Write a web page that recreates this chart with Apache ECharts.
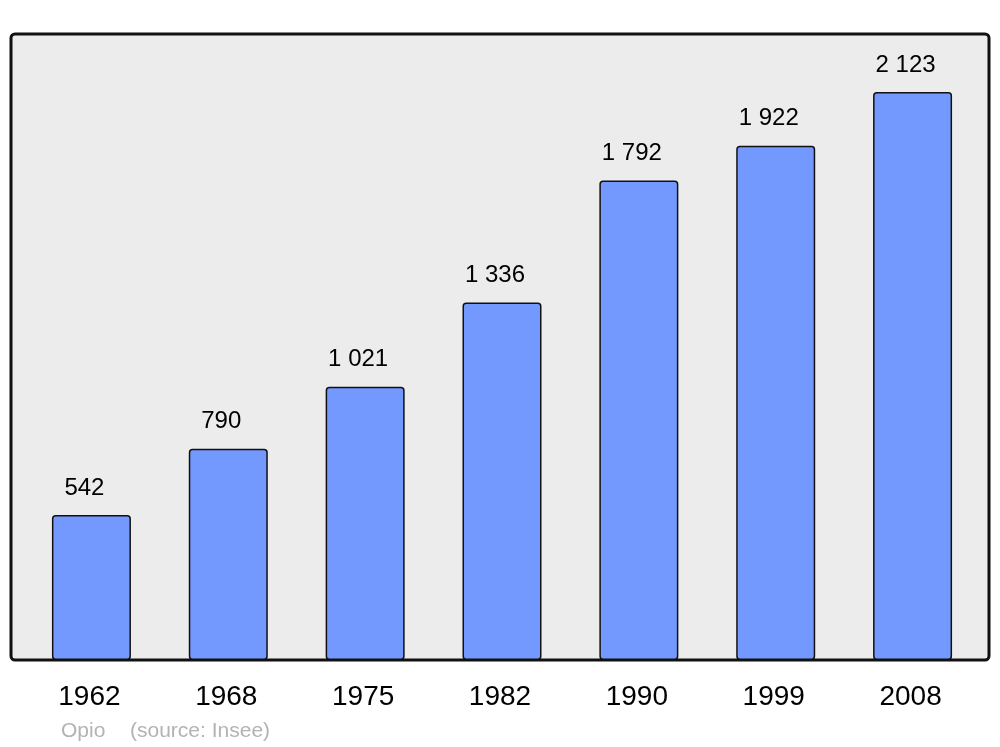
<!DOCTYPE html>
<html>
<head>
<meta charset="utf-8">
<script src="https://cdn.jsdelivr.net/npm/echarts@6/dist/echarts.min.js"></script>
<style>
  html, body { margin: 0; padding: 0; background: #fff; }
  #chart { width: 1000px; height: 747px; }
</style>
</head>
<body>
<div id="chart"></div>
<script>
// population data
const years = ["1962", "1968", "1975", "1982", "1990", "1999", "2008"];
const population = [542, 790, 1021, 1336, 1792, 1922, 2123];
const townName = "Opio";
const sourceText = "(source: Insee)";

const fmt = (v) => String(v).replace(/\B(?=(\d{3})+(?!\d))/g, " ");
const FONT = "Liberation Sans, Arial, sans-serif";

const chart = echarts.init(document.getElementById("chart"));
chart.setOption({
  backgroundColor: "#fff",
  animation: false,
  textStyle: { fontFamily: FONT },
  graphic: [
    {
      type: "rect",
      z: -10,
      silent: true,
      shape: { x: 11, y: 34, width: 978, height: 626, r: 4 },
      style: { fill: "#ececec", stroke: "#111", lineWidth: 3 }
    },
    {
      type: "text",
      left: 61,
      top: 721,
      silent: true,
      style: { text: townName, fill: "#b3b3b3", font: "21px " + FONT }
    },
    {
      type: "text",
      left: 130,
      top: 721,
      silent: true,
      style: { text: sourceText, fill: "#b3b3b3", font: "21px " + FONT }
    }
  ],
  grid: { left: 23, right: 19, top: 34, bottom: 87 },
  xAxis: {
    type: "category",
    data: years,
    axisLine: { show: false },
    axisTick: { show: false },
    axisLabel: {
      color: "#000",
      fontSize: 28,
      margin: 23,
      padding: [0, 4, 0, 0],
      fontFamily: FONT
    }
  },
  yAxis: {
    type: "value",
    min: 0,
    max: 2340,
    show: false,
    splitLine: { show: false }
  },
  series: [
    {
      type: "bar",
      data: population,
      barWidth: 79,
      itemStyle: {
        color: "#7399ff",
        borderColor: "#111",
        borderWidth: 1.5,
        borderRadius: 3
      },
      label: {
        show: true,
        position: "top",
        distance: 15,
        offset: [-7, 0],
        color: "#000",
        fontSize: 24,
        fontFamily: FONT,
        formatter: (p) => fmt(p.value)
      }
    }
  ]
});
</script>
</body>
</html>
